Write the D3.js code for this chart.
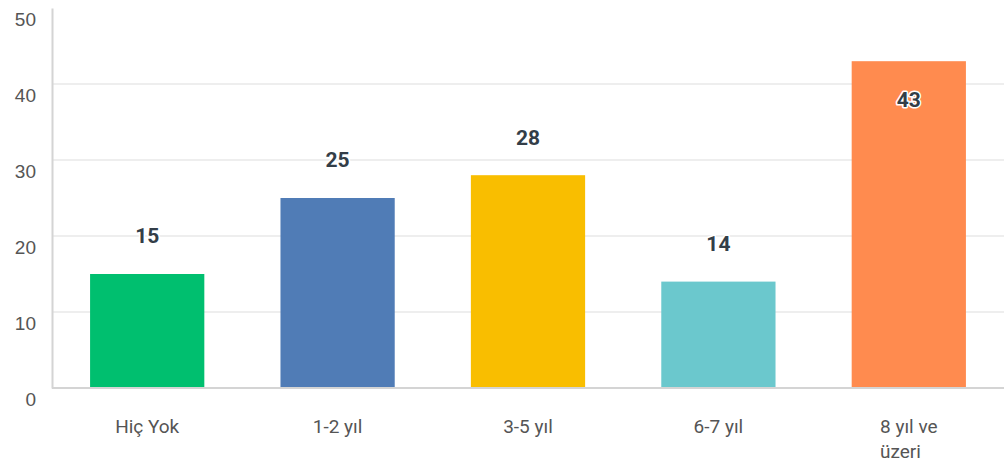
<!DOCTYPE html>
<html>
<head>
<meta charset="utf-8">
<script src="https://cdn.jsdelivr.net/npm/d3@7"></script>
<style>
  html, body { margin: 0; padding: 0; background: #fff; }
  svg { display: block; font-family: Roboto, "Noto Sans", sans-serif; }
</style>
</head>
<body>
<svg id="chart" width="1006" height="466"></svg>
<script>
// Categories and values
const categories = ["Hiç Yok", "1-2 yıl", "3-5 yıl", "6-7 yıl", "8 yıl ve üzeri"];
const values = [15, 25, 28, 14, 43];
const colors = ["#00BF6F", "#507CB6", "#F9BE00", "#6BC8CD", "#FF8B4F"];
const yTicks = [0, 10, 20, 30, 40, 50];

const svg = d3.select("#chart");
const plotLeft = 52, plotRight = 1004, plotTop = 8, plotBottom = 388;

const x = d3.scaleBand().domain(categories).range([plotLeft, plotRight]).paddingInner(0.4).paddingOuter(0.2);
const y = d3.scaleLinear().domain([0, 50]).range([plotBottom, plotTop]);

// Gridlines (inner ticks only)
svg.append("g")
  .selectAll("line")
  .data(yTicks.filter(t => t > 0 && t < 50))
  .join("line")
  .attr("x1", plotLeft).attr("x2", plotRight)
  .attr("y1", d => y(d)).attr("y2", d => y(d))
  .attr("stroke", "#e9e9e9").attr("stroke-width", 1.5);

// Y axis
const yAxis = svg.append("g")
  .attr("transform", `translate(${plotLeft},0)`)
  .call(d3.axisLeft(y).tickValues(yTicks).tickSize(0).tickPadding(16));
yAxis.select(".domain").attr("stroke", "#d4d4d4").attr("stroke-width", 2);
yAxis.selectAll("text")
  .attr("dy", "0.9em")
  .attr("fill", "#555")
  .style("font-size", "19px");

// Bars
svg.append("g")
  .selectAll("rect")
  .data(categories)
  .join("rect")
  .attr("x", d => x(d))
  .attr("width", x.bandwidth())
  .attr("y", (d, i) => y(values[i]))
  .attr("height", (d, i) => y(0) - y(values[i]))
  .attr("fill", (d, i) => colors[i]);

// Baseline
svg.append("line")
  .attr("x1", plotLeft).attr("x2", plotRight)
  .attr("y1", plotBottom).attr("y2", plotBottom)
  .attr("stroke", "#d4d4d4").attr("stroke-width", 2);

// Value labels: above the bar, or inside near the top when there is no room
svg.append("g")
  .selectAll("text")
  .data(categories)
  .join("text")
  .attr("x", d => x(d) + x.bandwidth() / 2)
  .attr("y", (d, i) => {
    const ty = y(values[i]);
    return ty - 38 > 50 ? ty - 38 : ty + 38;
  })
  .attr("dy", "0.35em")
  .attr("text-anchor", "middle")
  .attr("fill", "#333e48")
  .attr("stroke", "#fff")
  .attr("stroke-width", 3)
  .attr("stroke-linejoin", "round")
  .attr("paint-order", "stroke")
  .style("font-size", "21px")
  .style("font-weight", "bold")
  .text((d, i) => values[i]);

// Category labels, wrapped into lines of at most ~9 characters
const xLabels = svg.append("g")
  .selectAll("text")
  .data(categories)
  .join("text")
  .attr("fill", "#555")
  .style("font-size", "19px");

xLabels.each(function (d) {
  const words = d.split(" ");
  const lines = [];
  let cur = "";
  words.forEach(w => {
    const next = cur ? cur + " " + w : w;
    if (next.length > 9 && cur) { lines.push(cur); cur = w; } else cur = next;
  });
  if (cur) lines.push(cur);
  const t = d3.select(this);
  lines.forEach((l, k) => {
    t.append("tspan").attr("y", 426 + k * 25).attr("dy", "0.35em").text(l);
  });
  let maxW = 0;
  t.selectAll("tspan").each(function () { maxW = Math.max(maxW, this.getComputedTextLength()); });
  const cx = x(d) + x.bandwidth() / 2;
  t.selectAll("tspan").attr("x", cx - maxW / 2);
});
</script>
</body>
</html>
